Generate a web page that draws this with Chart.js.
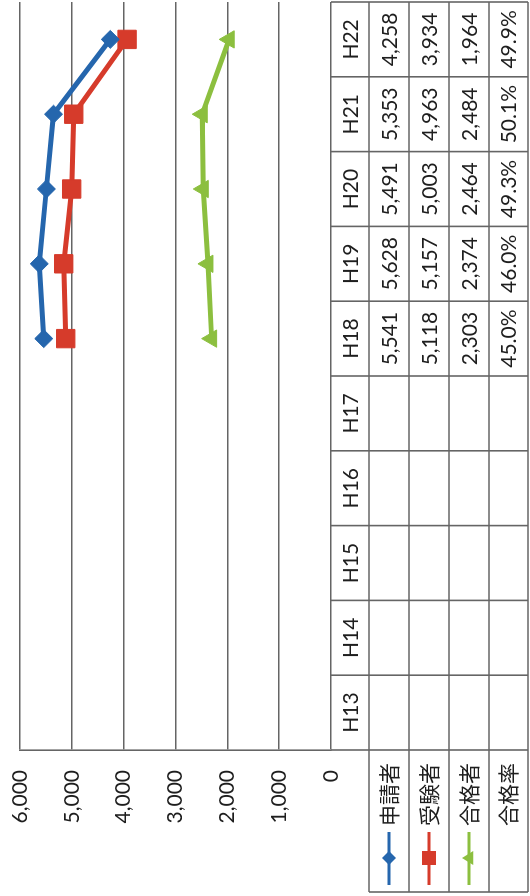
<!DOCTYPE html>
<html lang="ja">
  <head>
    <meta charset="UTF-8" />
    <title>申請者・受験者・合格者の推移</title>
    <script src="https://cdn.jsdelivr.net/npm/chart.js"></script>
    <style>
      body { margin: 0; background: #fff; width: 530px; height: 896px; overflow: hidden; }
      #wrap {
        position: absolute; left: 0; top: 0; width: 896px; height: 530px;
        transform-origin: 0 0;
        transform: translate(0, 896px) rotate(-90deg);
      }
    </style>
  </head>
  <body>
    <div id="wrap"><canvas id="myChart" width="896" height="530"></canvas></div>
    <script>
      const categories = ["H13", "H14", "H15", "H16", "H17", "H18", "H19", "H20", "H21", "H22"];
      const seriesNames = ["申請者", "受験者", "合格者", "合格率"];
      const applicants = [null, null, null, null, null, 5541, 5628, 5491, 5353, 4258];
      const examinees = [null, null, null, null, null, 5118, 5157, 5003, 4963, 3934];
      const passers = [null, null, null, null, null, 2303, 2374, 2464, 2484, 1964];
      const passRate = [null, null, null, null, null, 45.0, 46.0, 49.3, 50.1, 49.9];
      const yTicks = [0, 1000, 2000, 3000, 4000, 5000, 6000];

      const FONT = "Lato, 'Noto Sans CJK JP', sans-serif";
      const LINE = "#656565";
      const TEXT = "#1e1e1e";
      const colors = ["#2566ad", "#d63b2b", "#8cbf3f"];
      const styles = ["rectRot", "rect", "triangle"];
      const radii = [9, 13, 10];

      const fmt = (v) => v.toLocaleString("en-US");

      // 表（データテーブル）と凡例キーを下に描く
      const tablePlugin = {
        id: "dataTable",
        afterDraw(chart) {
          const { ctx, chartArea: a, scales } = chart;
          const x = scales.x;
          const w = x.getPixelForValue(1) - x.getPixelForValue(0);
          const rowY = [a.bottom, 369, 409, 449, 489, 528];
          const labelLeft = 4;

          ctx.save();
          ctx.strokeStyle = LINE;
          ctx.lineWidth = 1.6;
          ctx.beginPath();
          for (let r = 1; r < rowY.length; r++) {
            ctx.moveTo(labelLeft, rowY[r]);
            ctx.lineTo(a.right, rowY[r]);
          }
          for (let i = 0; i <= categories.length; i++) {
            const cx = i < categories.length ? x.getPixelForValue(i) - w / 2 : a.right;
            ctx.moveTo(cx, rowY[0]);
            ctx.lineTo(cx, rowY[5]);
          }
          ctx.moveTo(labelLeft, rowY[1]);
          ctx.lineTo(labelLeft, rowY[5]);
          ctx.stroke();

          ctx.fillStyle = TEXT;
          ctx.font = "21px " + FONT;
          ctx.textAlign = "center";
          ctx.textBaseline = "middle";
          const rows = [applicants, examinees, passers, passRate];
          categories.forEach((c, i) => {
            const cx = x.getPixelForValue(i);
            ctx.fillText(c, cx, (rowY[0] + rowY[1]) / 2 + 1);
            rows.forEach((vals, r) => {
              const v = vals[i];
              if (v == null) return;
              const t = r === 3 ? v.toFixed(1) + "%" : fmt(v);
              ctx.fillText(t, cx, (rowY[r + 1] + rowY[r + 2]) / 2 + 1);
            });
          });

          // 行ラベル
          ctx.textAlign = "left";
          ctx.font = "21px " + FONT;
          seriesNames.forEach((name, r) => {
            const cy = (rowY[r + 1] + rowY[r + 2]) / 2;
            ctx.fillStyle = TEXT;
            ctx.fillText(name, 70, cy + 1);
            if (r > 2) return;
            ctx.strokeStyle = colors[r];
            ctx.fillStyle = colors[r];
            ctx.lineWidth = 3;
            ctx.beginPath();
            ctx.moveTo(11, cy);
            ctx.lineTo(64, cy);
            ctx.stroke();
            const mx = 38, s = 7;
            ctx.beginPath();
            if (r === 0) {
              ctx.moveTo(mx - s, cy); ctx.lineTo(mx, cy - s);
              ctx.lineTo(mx + s, cy); ctx.lineTo(mx, cy + s);
            } else if (r === 1) {
              ctx.rect(mx - s, cy - s, 2 * s, 2 * s);
            } else {
              ctx.moveTo(mx - s, cy + s * 0.6); ctx.lineTo(mx + s, cy + s * 0.6);
              ctx.lineTo(mx, cy - s);
            }
            ctx.closePath();
            ctx.fill();
          });
          ctx.restore();
        },
      };

      const mkSet = (label, data, i) => ({
        label: label,
        data: data,
        borderColor: colors[i],
        backgroundColor: colors[i],
        borderWidth: 5,
        pointStyle: styles[i],
        pointRadius: radii[i],
        pointBorderWidth: 1,
        pointBackgroundColor: colors[i],
        pointBorderColor: colors[i],
        tension: 0,
        clip: false,
      });

      const config = {
        type: "line",
        data: {
          labels: categories,
          datasets: [
            mkSet(seriesNames[0], applicants, 0),
            mkSet(seriesNames[1], examinees, 1),
            mkSet(seriesNames[2], passers, 2),
          ],
        },
        options: {
          responsive: false,
          animation: false,
          layout: { autoPadding: false, padding: { top: 20, bottom: 199, right: 2, left: 0 } },
          plugins: { legend: { display: false }, tooltip: { enabled: false } },
          scales: {
            x: { display: false, offset: true },
            y: {
              min: 0,
              max: 6000,
              afterFit: (s) => {
                s.width = 146;
                s.paddingTop = 0;
                s.paddingBottom = 0;
              },
              afterBuildTicks: (s) => { s.ticks = yTicks.map((v) => ({ value: v })); },
              ticks: {
                padding: 20,
                color: TEXT,
                font: { family: FONT, size: 21 },
                callback: (v) => fmt(v),
              },
              grid: { color: LINE, lineWidth: 1.6, drawTicks: false },
              border: { color: LINE, width: 1.6 },
            },
          },
        },
        plugins: [tablePlugin],
      };

      new Chart(document.getElementById("myChart"), config);
    </script>
  </body>
</html>
